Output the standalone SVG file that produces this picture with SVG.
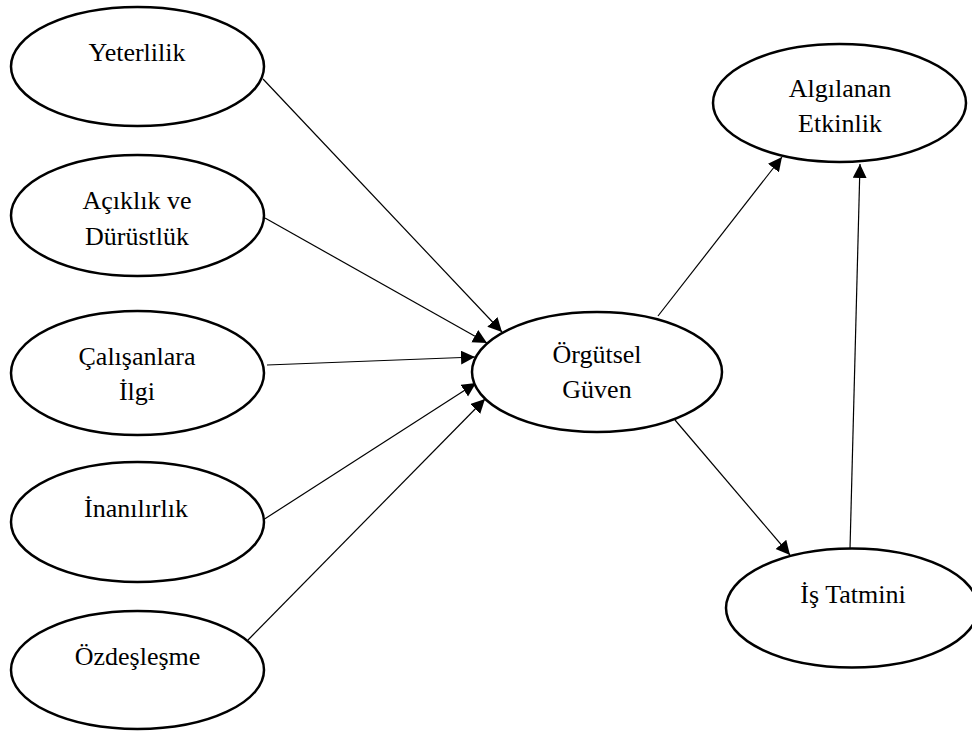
<svg xmlns="http://www.w3.org/2000/svg" width="972" height="731" viewBox="0 0 972 731">
  <style>
    .node ellipse { fill: #ffffff; stroke: #000000; stroke-width: 2.5; }
    .node text { font-family: "Liberation Serif", "Times New Roman", serif; font-size: 26px; fill: #000000; text-anchor: middle; }
    .edge { stroke: #000000; stroke-width: 1.2; fill: none; marker-end: url(#arrow); }
  </style>
  <defs>
    <marker id="arrow" markerUnits="userSpaceOnUse" markerWidth="15" markerHeight="15" refX="14" refY="7" orient="auto">
      <path d="M0,0 L14,7 L0,14 z" fill="#000000"/>
    </marker>
  </defs>
  <rect width="972" height="731" fill="#ffffff"/>

  <!-- connectors -->
  <g id="connectors">
    <line class="edge" x1="263" y1="79" x2="502" y2="332"/>
    <line class="edge" x1="265" y1="218" x2="487" y2="343"/>
    <line class="edge" x1="267" y1="365" x2="475" y2="357"/>
    <line class="edge" x1="263" y1="520" x2="476" y2="383"/>
    <line class="edge" x1="248" y1="640" x2="485" y2="399"/>
    <line class="edge" x1="658" y1="316" x2="782" y2="157"/>
    <line class="edge" x1="675" y1="420" x2="790" y2="555"/>
    <line class="edge" x1="850" y1="549" x2="860" y2="164"/>
  </g>

  <!-- antecedents -->
  <g id="yeterlilik" class="node">
    <ellipse cx="137.5" cy="66.5" rx="126.5" ry="59.5"/>
    <text x="137" y="61">Yeterlilik</text>
  </g>
  <g id="aciklik" class="node">
    <ellipse cx="137.5" cy="215.5" rx="126.5" ry="60.5"/>
    <text x="137" y="209">Açıklık ve</text>
    <text x="137" y="245">Dürüstlük</text>
  </g>
  <g id="calisanlara-ilgi" class="node">
    <ellipse cx="137.5" cy="373" rx="126.5" ry="62"/>
    <text x="137" y="365">Çalışanlara</text>
    <text x="137" y="400">İlgi</text>
  </g>
  <g id="inanilirlik" class="node">
    <ellipse cx="137.5" cy="522" rx="126.5" ry="60"/>
    <text x="136" y="517">İnanılırlık</text>
  </g>
  <g id="ozdeslesme" class="node">
    <ellipse cx="137.5" cy="670" rx="126.5" ry="59"/>
    <text x="137.5" y="665">Özdeşleşme</text>
  </g>

  <!-- mediator -->
  <g id="orgutsel-guven" class="node">
    <ellipse cx="597" cy="372" rx="125" ry="60"/>
    <text x="597" y="363">Örgütsel</text>
    <text x="597" y="398">Güven</text>
  </g>

  <!-- outcomes -->
  <g id="algilanan-etkinlik" class="node">
    <ellipse cx="839.5" cy="103" rx="126.5" ry="59"/>
    <text x="840" y="97">Algılanan</text>
    <text x="840" y="132">Etkinlik</text>
  </g>
  <g id="is-tatmini" class="node">
    <ellipse cx="852" cy="608" rx="126" ry="59.5"/>
    <text x="853" y="603">İş Tatmini</text>
  </g>
</svg>
